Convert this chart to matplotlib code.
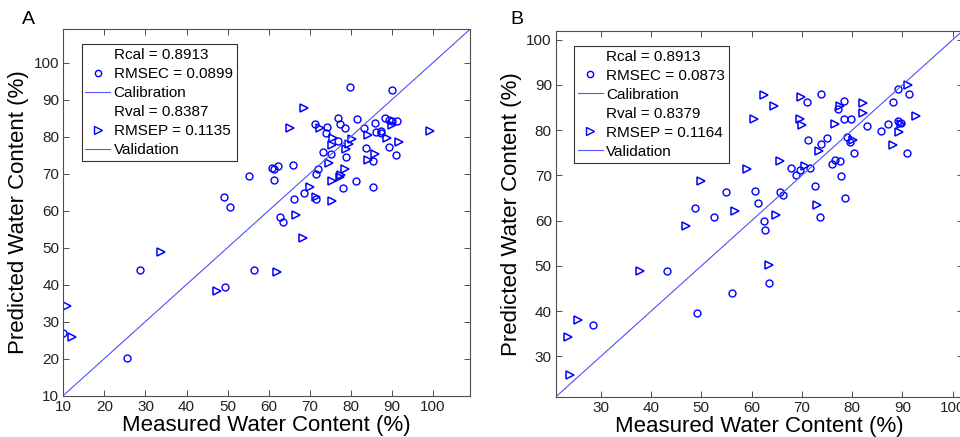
import matplotlib
matplotlib.use('Agg')
import matplotlib.pyplot as plt
from matplotlib.lines import Line2D


### DATA

# panel A
cal_x_a = [79.9, 90.1, 76.8, 81.4, 71.3, 74.2, 77.3, 78.5, 83.1, 85.9, 88.2, 89.2, 90.1, 91.3,
           74.0, 86.2, 87.3, 87.4, 76.8, 83.8, 89.4, 91.0, 73.2, 75.2, 78.7, 85.5, 65.9, 62.2,
           60.8, 61.3, 72.0, 71.4, 55.2, 61.4, 81.2, 78.0, 85.5, 68.7, 49.0, 66.2, 71.4, 50.5,
           62.8, 63.6, 28.7, 56.3, 49.4, 10.0, 25.6]
cal_y_a = [93.3, 92.6, 85.0, 84.8, 83.4, 82.5, 83.4, 82.4, 82.4, 83.6, 84.9, 84.5, 84.3, 84.1,
           80.9, 81.3, 81.6, 80.9, 78.9, 77.0, 77.3, 75.0, 75.9, 75.2, 74.6, 73.4, 72.4, 72.1,
           71.6, 71.3, 71.3, 69.8, 69.4, 68.2, 68.0, 66.1, 66.3, 64.8, 63.7, 63.1, 63.2, 61.0,
           58.2, 56.8, 43.8, 44.0, 39.2, 26.8, 20.2]
val_x_a = [68.7, 65.1, 72.4, 75.6, 75.4, 80.3, 79.6, 78.8, 84.1, 88.8, 90.0, 91.7, 99.3, 74.7,
           84.2, 85.9, 78.5, 75.4, 77.5, 77.3, 70.1, 71.6, 75.5, 66.6, 68.3, 33.7, 62.0, 47.4,
           10.8, 12.1]
val_y_a = [87.7, 82.3, 82.4, 79.7, 77.6, 79.3, 77.9, 76.6, 80.3, 79.7, 83.1, 78.6, 81.5, 72.9,
           73.8, 75.3, 71.2, 67.9, 69.5, 69.0, 66.5, 63.7, 62.5, 58.9, 52.5, 48.8, 43.3, 38.2,
           34.3, 25.8]

# panel B
cal_x_b = [73.9, 71.0, 78.3, 77.1, 78.4, 79.7, 83.0, 85.7, 87.1, 88.1, 89.1, 91.3, 89.2, 89.8,
           91.0, 75.1, 71.2, 73.9, 79.0, 79.5, 80.3, 76.6, 76.1, 77.6, 77.8, 78.6, 72.7, 67.8,
           69.6, 71.6, 68.9, 65.7, 66.3, 60.7, 61.2, 55.0, 48.8, 52.6, 73.7, 62.5, 62.7, 43.2,
           56.1, 63.4, 49.2, 28.5]
cal_y_b = [87.9, 86.3, 86.5, 84.7, 82.5, 82.5, 81.0, 79.9, 81.3, 86.2, 89.1, 88.0, 82.1, 81.5,
           74.9, 78.2, 77.9, 76.9, 78.6, 77.3, 74.9, 73.5, 72.6, 73.1, 69.9, 65.1, 67.6, 71.6,
           71.2, 71.7, 70.1, 66.3, 65.6, 66.5, 63.9, 66.3, 62.8, 60.8, 60.8, 59.9, 57.9, 48.8,
           44.0, 46.3, 39.7, 37.0]
val_x_b = [62.4, 64.4, 60.4, 69.9, 69.6, 70.1, 77.6, 76.6, 82.2, 82.2, 91.2, 92.7, 89.8, 89.3,
           88.2, 80.2, 73.5, 65.7, 70.6, 59.0, 49.9, 73.1, 64.9, 56.7, 46.9, 37.9, 63.5, 25.4,
           23.4, 23.9]
val_y_b = [87.7, 85.4, 82.4, 87.3, 82.5, 81.1, 85.4, 81.3, 86.1, 83.8, 90.0, 83.2, 81.4, 79.7,
           76.8, 77.9, 75.3, 73.2, 72.0, 71.5, 68.7, 63.5, 61.3, 62.2, 58.9, 48.9, 50.2, 38.1,
           34.4, 25.9]

stats_a = ['Rcal = 0.8913', 'RMSEC = 0.0899', 'Calibration', 'Rval = 0.8387', 'RMSEP = 0.1135', 'Validation']
stats_b = ['Rcal = 0.8913', 'RMSEC = 0.0873', 'Calibration', 'Rval = 0.8379', 'RMSEP = 0.1164', 'Validation']


### STYLE

plt.rcParams['font.family'] = ['Liberation Sans', 'DejaVu Sans']
blue = (0, 0, 1)
line_blue = (0.35, 0.35, 1.0)
spine_grey = (0.3, 0.3, 0.3)


def draw_panel(ax, cal_x, cal_y, val_x, val_y, lims, ticks, labels, letter):

    ax.plot(cal_x, cal_y, 'o', markerfacecolor='none', markeredgecolor=blue, markersize=5, markeredgewidth=1.0)
    ax.plot(val_x, val_y, '>', markerfacecolor='none', markeredgecolor=blue, markersize=6, markeredgewidth=1.1)
    # calibration and validation lines (both 1:1, they overlap)
    ax.plot(lims, lims, color=line_blue, linewidth=0.6)
    ax.plot(lims, lims, color=line_blue, linewidth=0.6)

    ax.set_xlim(lims)
    ax.set_ylim(lims)
    ax.set_xticks(ticks)
    ax.set_yticks(ticks)

    ax.tick_params(direction='in', length=4, width=0.7, colors=spine_grey, labelcolor='#222222',
                   labelsize=11, top=True, right=True, pad=3)
    for s in ax.spines.values():
        s.set_color(spine_grey)
        s.set_linewidth(0.8)

    ax.set_xlabel('Measured Water Content (%)', fontsize=16, labelpad=1)
    ax.set_ylabel('Predicted Water Content (%)', fontsize=16, labelpad=3)

    # legend, matlab style with text-only rows
    empty = Line2D([], [], linestyle='none', marker='none')
    handles = [
        empty,
        Line2D([], [], linestyle='none', marker='o', markerfacecolor='none', markeredgecolor=blue, markersize=4.5),
        Line2D([], [], color=line_blue, linewidth=0.8),
        empty,
        Line2D([], [], linestyle='none', marker='>', markerfacecolor='none', markeredgecolor=blue, markersize=5.5),
        Line2D([], [], color=line_blue, linewidth=0.8),
    ]
    leg = ax.legend(handles, labels, loc='upper left', bbox_to_anchor=(0.045, 0.959), borderaxespad=0,
                    fontsize=11, frameon=True, fancybox=False, edgecolor='#333333', framealpha=1,
                    handlelength=1.6, handletextpad=0.25, labelspacing=0.33, borderpad=0.25)
    leg.get_frame().set_linewidth(0.8)

    ax.figure.text(letter[1], letter[2], letter[0], fontsize=14, ha='left', va='center')


fig = plt.figure(figsize=(9.6, 4.37), dpi=100)

ax_a = fig.add_axes([63.3 / 960, 1 - 395.5 / 437, 406.7 / 960, 366.2 / 437])
draw_panel(ax_a, cal_x_a, cal_y_a, val_x_a, val_y_a, (10, 109), list(range(10, 101, 10)), stats_a,
           ('A', 22 / 960, 1 - 20 / 437))

ax_b = fig.add_axes([556 / 960, 1 - 396.7 / 437, 406.7 / 960, 366.0 / 437])
draw_panel(ax_b, cal_x_b, cal_y_b, val_x_b, val_y_b, (21.1, 102.0), list(range(30, 101, 10)), stats_b,
           ('B', 510 / 960, 1 - 20 / 437))

fig.savefig('out.png', dpi=100)
